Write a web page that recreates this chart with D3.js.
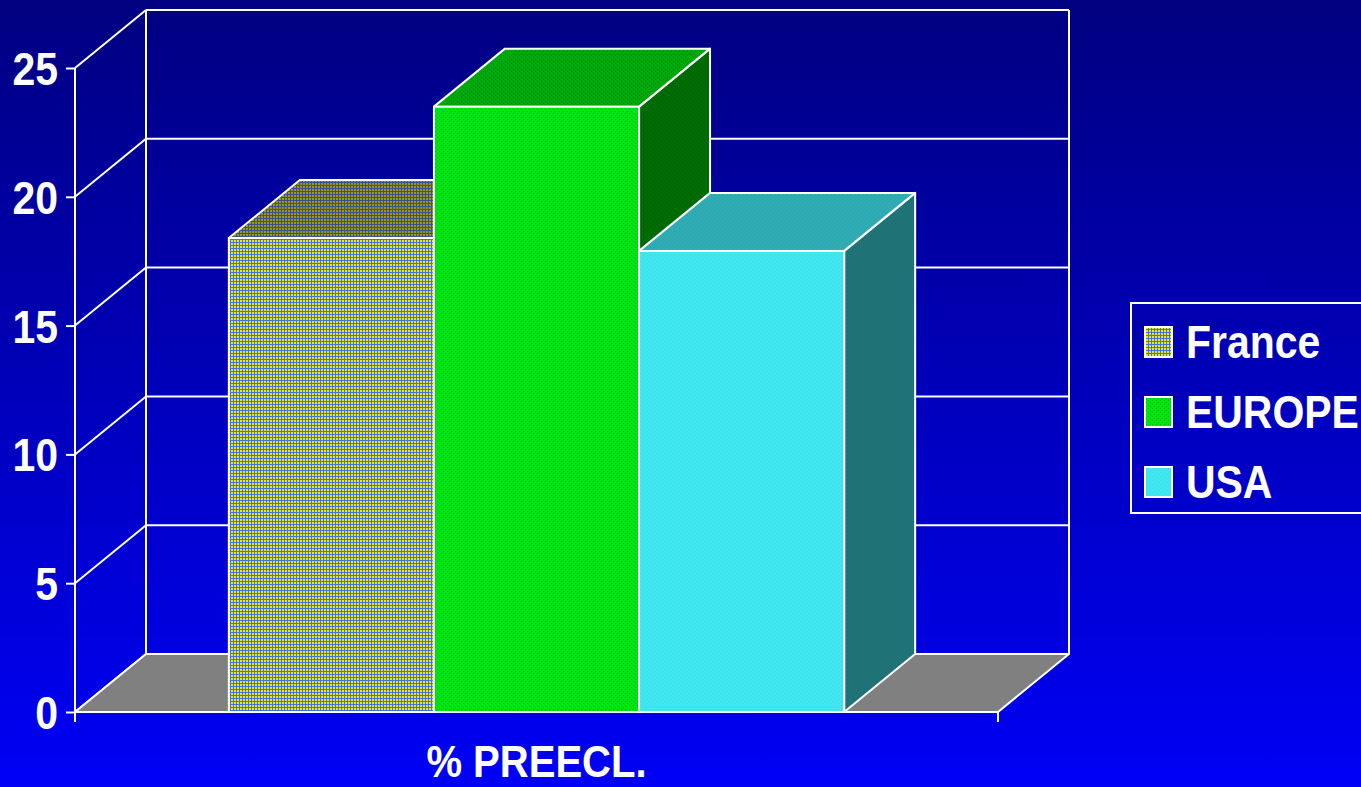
<!DOCTYPE html>
<html>
<head>
<meta charset="utf-8">
<script src="https://cdn.jsdelivr.net/npm/d3@7"></script>
<style>
  html, body { margin: 0; padding: 0; background: #0000c0; }
  svg { display: block; }
</style>
</head>
<body>
<svg id="chart" width="1361" height="787"></svg>
<script>
// Chart data
const categories = ["% PREECL."];
const seriesNames = ["France", "EUROPE", "USA"];
const seriesValues = [18.4, 23.5, 17.9];
const tickValues = [0, 5, 10, 15, 20, 25];
const tickLabels = ["0", "5", "10", "15", "20", "25"];

const W = 1361, H = 787;
const svg = d3.select("#chart");
const FONT = "'Liberation Sans', Arial, sans-serif";
const SX = 0.89; // horizontal squeeze of the bold labels

// Plot geometry: front plane + depth offset for the 3D look
const front = { left: 75, right: 998, top: 68, bottom: 712 };
const depth = { dx: 71, dy: -58 };

const y = d3.scaleLinear().domain([0, 25]).range([front.bottom, front.top]);
const x0 = d3.scaleBand().domain(categories).range([front.left, front.right])
  .paddingInner(0).paddingOuter(0.25);
const x1 = d3.scaleBand().domain(seriesNames).range([0, x0.bandwidth()]).padding(0);

const defs = svg.append("defs");

// Background gradient
const bg = defs.append("linearGradient").attr("id", "bgGrad")
  .attr("x1", 0).attr("y1", 0).attr("x2", 0).attr("y2", 1);
bg.append("stop").attr("offset", "0%").attr("stop-color", "#000080");
bg.append("stop").attr("offset", "100%").attr("stop-color", "#0000f6");
svg.append("rect").attr("width", W).attr("height", H).attr("fill", "url(#bgGrad)");

// Fill patterns for the bar faces
function plaid(id, base, line) {
  const p = defs.append("pattern").attr("id", id)
    .attr("patternUnits", "userSpaceOnUse").attr("width", 3).attr("height", 3);
  p.append("rect").attr("width", 3).attr("height", 3).attr("fill", base);
  p.append("rect").attr("x", 2).attr("width", 1).attr("height", 3).attr("fill", line);
  p.append("rect").attr("y", 2).attr("width", 3).attr("height", 1).attr("fill", line);
}
function dots(id, base, dot) {
  const p = defs.append("pattern").attr("id", id)
    .attr("patternUnits", "userSpaceOnUse").attr("width", 4).attr("height", 4);
  p.append("rect").attr("width", 4).attr("height", 4).attr("fill", base);
  p.append("rect").attr("x", 1).attr("y", 1).attr("width", 1).attr("height", 1).attr("fill", dot);
  p.append("rect").attr("x", 3).attr("y", 3).attr("width", 1).attr("height", 1).attr("fill", dot);
}
plaid("frFront", "#eeea00", "#4470e8");
plaid("frTop", "#a09c00", "#3a5090");
plaid("frSide", "#7c7800", "#2c3e70");
dots("euFront", "#00e414", "#00c010");
dots("euTop", "#00a80c", "#009008");
dots("euSide", "#006c04", "#005c02");
dots("usFront", "#40e6f0", "#38d8e8");
dots("usTop", "#30acb4", "#2aa0a8");
dots("usSide", "#207478", "#1c6a70");

const faces = {
  "France": { front: "url(#frFront)", top: "url(#frTop)", side: "url(#frSide)" },
  "EUROPE": { front: "url(#euFront)", top: "url(#euTop)", side: "url(#euSide)" },
  "USA":    { front: "url(#usFront)", top: "url(#usTop)", side: "url(#usSide)" }
};

const line = d3.line();
const stroke = "#ffffff";

// Back wall and left wall gridlines
const backL = front.left + depth.dx, backR = front.right + depth.dx;
const grid = svg.append("g").attr("stroke", stroke).attr("stroke-width", 2).attr("fill", "none");
tickValues.forEach(v => {
  if (v > 0) {
    grid.append("line").attr("x1", backL).attr("x2", backR)
      .attr("y1", y(v) + depth.dy).attr("y2", y(v) + depth.dy);
  }
  grid.append("line").attr("x1", front.left).attr("y1", y(v))
    .attr("x2", backL).attr("y2", y(v) + depth.dy);
});
grid.append("line").attr("x1", backL).attr("x2", backL)
  .attr("y1", y(25) + depth.dy).attr("y2", y(0) + depth.dy);
grid.append("line").attr("x1", backR).attr("x2", backR)
  .attr("y1", y(25) + depth.dy).attr("y2", y(0) + depth.dy);

// Floor
svg.append("path")
  .attr("d", line([
    [front.left, y(0)], [backL, y(0) + depth.dy],
    [backR, y(0) + depth.dy], [front.right, y(0)]
  ]) + "Z")
  .attr("fill", "#808080").attr("stroke", stroke).attr("stroke-width", 2)
  .attr("stroke-linejoin", "round");

// Bars (side, top, front for each series)
const bars = svg.append("g");
const cat = categories[0];
seriesNames.forEach((name, i) => {
  const v = seriesValues[i];
  const xl = x0(cat) + x1(name), xr = xl + x1.bandwidth();
  const yt = y(v), yb = y(0);
  const g = bars.append("g").attr("stroke", stroke).attr("stroke-width", 2)
    .attr("stroke-linejoin", "round");
  g.append("path").attr("fill", faces[name].side)
    .attr("d", line([[xr, yt], [xr + depth.dx, yt + depth.dy],
      [xr + depth.dx, yb + depth.dy], [xr, yb]]) + "Z");
  g.append("path").attr("fill", faces[name].top)
    .attr("d", line([[xl, yt], [xl + depth.dx, yt + depth.dy],
      [xr + depth.dx, yt + depth.dy], [xr, yt]]) + "Z");
  g.append("rect").attr("fill", faces[name].front)
    .attr("x", xl).attr("y", yt).attr("width", xr - xl).attr("height", yb - yt);
});

// Front floor edge with end tick
svg.append("line").attr("x1", front.left).attr("x2", front.right)
  .attr("y1", y(0)).attr("y2", y(0)).attr("stroke", stroke).attr("stroke-width", 2);
svg.append("line").attr("x1", front.right).attr("x2", front.right)
  .attr("y1", y(0)).attr("y2", y(0) + 10).attr("stroke", stroke).attr("stroke-width", 2);

// Value axis
const axis = d3.axisLeft(y).tickValues(tickValues)
  .tickFormat((d, i) => tickLabels[i]).tickSize(9).tickPadding(8);
const ax = svg.append("g").attr("transform", `translate(${front.left},0)`).call(axis);
ax.select(".domain").remove();
ax.append("line").attr("x1", 0).attr("x2", 0)
  .attr("y1", y(25)).attr("y2", y(0) + 10).attr("stroke", stroke).attr("stroke-width", 2);
ax.selectAll(".tick line").attr("stroke", stroke).attr("stroke-width", 2);
ax.selectAll(".tick text")
  .attr("fill", "#ffffff").attr("font-family", FONT).attr("font-weight", "bold")
  .attr("font-size", 46).attr("x", -17 / SX).attr("dy", "0.36em")
  .attr("transform", `scale(${SX},1)`);

// Category label
svg.append("text")
  .attr("transform", `translate(${x0(cat) + x0.bandwidth() / 2},777) scale(${SX},1)`)
  .attr("text-anchor", "middle").attr("fill", "#ffffff")
  .attr("font-family", FONT).attr("font-weight", "bold").attr("font-size", 45)
  .text(cat);

// Legend
const legend = svg.append("g").attr("transform", "translate(1131,303)");
legend.append("rect").attr("width", 250).attr("height", 210)
  .attr("fill", "none").attr("stroke", stroke).attr("stroke-width", 2);
seriesNames.forEach((name, i) => {
  const gy = 24 + i * 70;
  legend.append("rect").attr("x", 14).attr("y", gy).attr("width", 27).attr("height", 30)
    .attr("fill", faces[name].front).attr("stroke", stroke).attr("stroke-width", 2);
  legend.append("text")
    .attr("transform", `translate(55,${gy + 31}) scale(${SX},1)`)
    .attr("fill", "#ffffff").attr("font-family", FONT).attr("font-weight", "bold")
    .attr("font-size", 46).text(name);
});
</script>
</body>
</html>
